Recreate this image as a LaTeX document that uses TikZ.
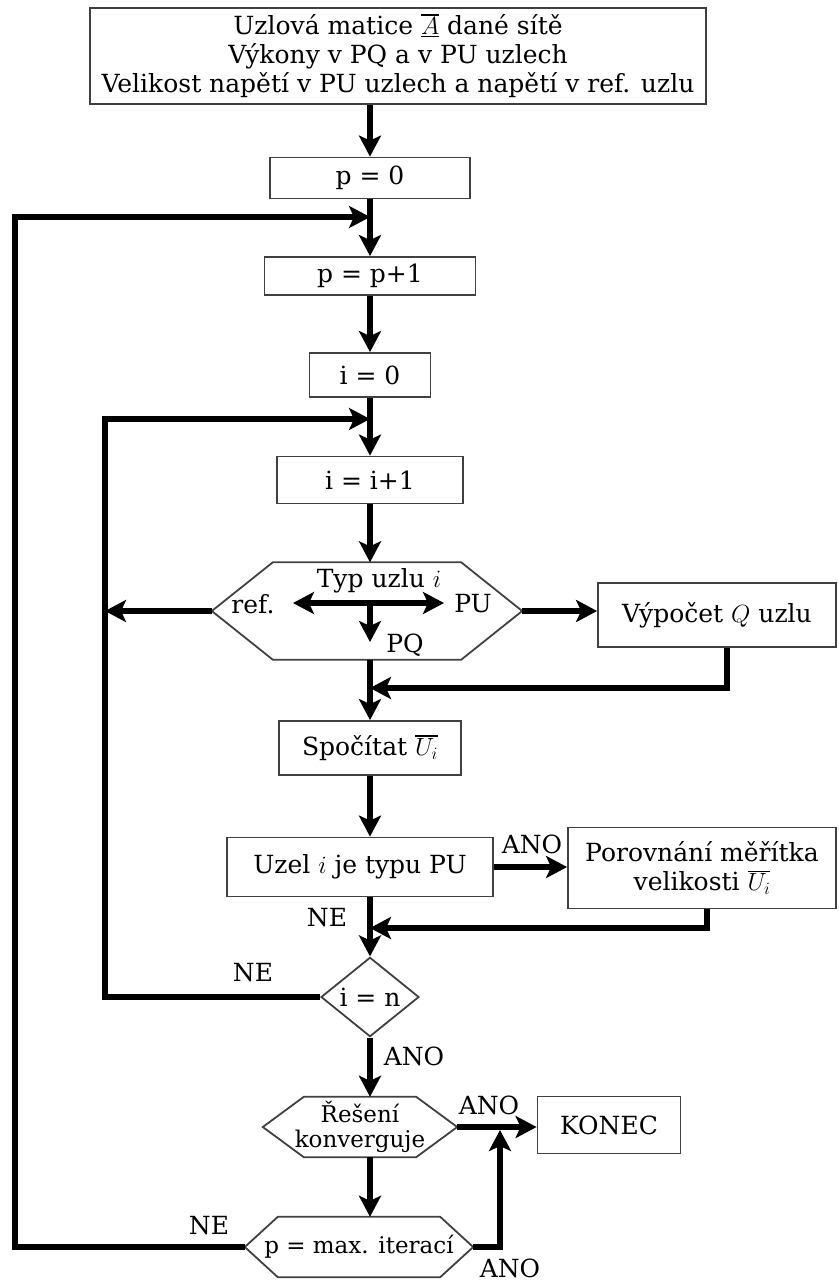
\documentclass[tikz,border=0pt]{standalone}
\usepackage{fontspec}
\setmainfont{DejaVu Serif}
\usetikzlibrary{positioning,calc,shapes.geometric,arrows.meta}

\newcommand{\hexoutline}[2]{%
  \draw[frame] (#1.west) -- ([xshift=#2]#1.north west) -- ([xshift=-#2]#1.north east)
    -- (#1.east) -- ([xshift=-#2]#1.south east) -- ([xshift=#2]#1.south west) -- cycle;}
\newcommand{\barred}[1]{\vbox{\hrule height 1.4pt\kern1.6pt\hbox{$#1$}}}
\newcommand{\dbarred}[1]{\vtop{\vbox{\hrule height 1.4pt\kern1.6pt\hbox{$#1$}}\kern1.6pt\hrule height 1.4pt}}

\begin{document}
\begin{tikzpicture}[x=1pt,y=-1pt]
  \tikzset{
    txt/.style={font=\fontsize{25}{29}\selectfont, inner sep=0pt, align=center},
    box/.style={txt, rectangle, draw=black!75, line width=1.8pt},
    hexa/.style={txt, rectangle, font=\fontsize{23}{25}\selectfont},
    cond/.style={txt, diamond, draw=black!75, line width=1.8pt},
    frame/.style={draw=black!75, line width=1.8pt},
    flow/.style={-{Stealth[length=21pt,width=22pt,inset=5pt]}, line width=5.5pt},
    dflow/.style={{Stealth[length=21pt,width=22pt,inset=5pt]}-{Stealth[length=21pt,width=22pt,inset=5pt]}, line width=5.5pt}
  }
  \useasboundingbox (0,0) rectangle (838,1285);

  % INPUT AND OUTER LOOP
  \node[box, minimum width=616, minimum height=96] (src) at (398,56)
    {Uzlová matice \dbarred{A} dané sítě\\ Výkony v PQ a v PU uzlech\\ Velikost napětí v PU uzlech a napětí v ref. uzlu};
  \node[box, minimum width=200, minimum height=41] (p0) at (370,178) {p = 0};
  \node[box, minimum width=211, minimum height=38] (pp) at (370,276) {p = p+1};
  \node[box, minimum width=121, minimum height=44] (i0) at (370,375) {i = 0};
  \node[box, minimum width=186, minimum height=47] (ii) at (370,480) {i = i+1};

  % NODE TYPE
  \node[hexa, minimum width=310, minimum height=97] (typ) at (367,611) {};
  \hexoutline{typ}{61pt}
  \node[txt] (typlbl) at (379,581) {Typ uzlu $i$};
  \node[txt] (reflbl) at (253,604) {ref.};
  \node[txt] (pulbl) at (473,604) {PU};
  \node[txt] (pqlbl) at (405,645) {PQ};
  \coordinate (tl) at (293,603);
  \coordinate (tr) at (444,603);
  \coordinate (tm) at (370,603);
  \coordinate (tb) at (370,642);
  \draw[dflow] (tl) -- (tr);
  \draw[flow] (tm) -- (tb);

  \node[box, minimum width=238, minimum height=64] (vyp) at (717,615) {Výpočet $Q$ uzlu};
  \node[box, minimum width=182, minimum height=54] (spo) at (370,748) {Spočítat \barred{U_i}};
  \node[box, minimum width=266, minimum height=59] (uzel) at (360,867) {Uzel $i$ je typu PU};
  \node[box, minimum width=268, minimum height=81] (por) at (702,868) {Porovnání měřítka\\ velikosti \barred{U_i}};
  \node[cond, minimum width=98, minimum height=78] (diam) at (370,997) {i = n};

  % END TESTS
  \node[hexa, minimum width=194, minimum height=60] (res) at (360,1127) {Řešení\\ konverguje};
  \hexoutline{res}{41pt}
  \node[box, minimum width=143, minimum height=57] (konec) at (609,1125) {KONEC};
  \node[hexa, minimum width=228, minimum height=60] (max) at (359,1247) {p = max. iterací};
  \hexoutline{max}{33pt}

  % LABELS
  \node[txt] (ano1) at (532,844) {ANO};
  \node[txt] (ne1) at (327,918) {NE};
  \node[txt] (ne2) at (253,973) {NE};
  \node[txt] (ano2) at (414,1056) {ANO};
  \node[txt] (ano3) at (489,1105) {ANO};
  \node[txt] (ne3) at (209,1226) {NE};
  \node[txt] (ano4) at (510,1268) {ANO};

  % JOINS
  \coordinate (pjoin) at (370,217);
  \coordinate (pcorner) at (15,217);
  \coordinate (ijoin) at (370,419);
  \coordinate (icorner) at (105,419);
  \coordinate (qjoin) at (370,688);
  \coordinate (ujoin) at (370,928);
  \coordinate (cjoin) at (500,1130);

  \draw[flow] (src.south -| p0.north) -- (p0.north);
  \draw[flow] (p0) -- (pp);
  \draw[flow] (pp) -- (i0);
  \draw[flow] (i0) -- (ii);
  \draw[flow] (ii) -- (ii |- typ.north);
  \draw[flow] (ii |- typ.south) -- (spo);
  \draw[flow] (spo) -- (spo |- uzel.north);
  \draw[flow] (spo |- uzel.south) -- (diam);
  \draw[flow] (diam.south) -- (diam.south |- res.north);
  \draw[flow] (diam.south |- res.south) -- (diam.south |- max.north);

  \draw[flow] (typ.west) -- (typ.west -| icorner);
  \draw[flow] (typ.east) -- (typ.east -| vyp.west);
  \draw[flow] ([xshift=10pt]vyp.south) |- (qjoin);
  \draw[flow] (uzel.east) -- (uzel.east -| por.west);
  \draw[flow] ([xshift=5pt]por.south) |- (ujoin);
  \draw[flow] (diam.west) -| (icorner) -- (ijoin);
  \draw[flow] (res.east) -- (res.east -| konec.west);
  \draw[flow] (max.east) -| (cjoin);
  \draw[flow] (max.west) -| (pcorner) -- (pjoin);
\end{tikzpicture}
\end{document}
